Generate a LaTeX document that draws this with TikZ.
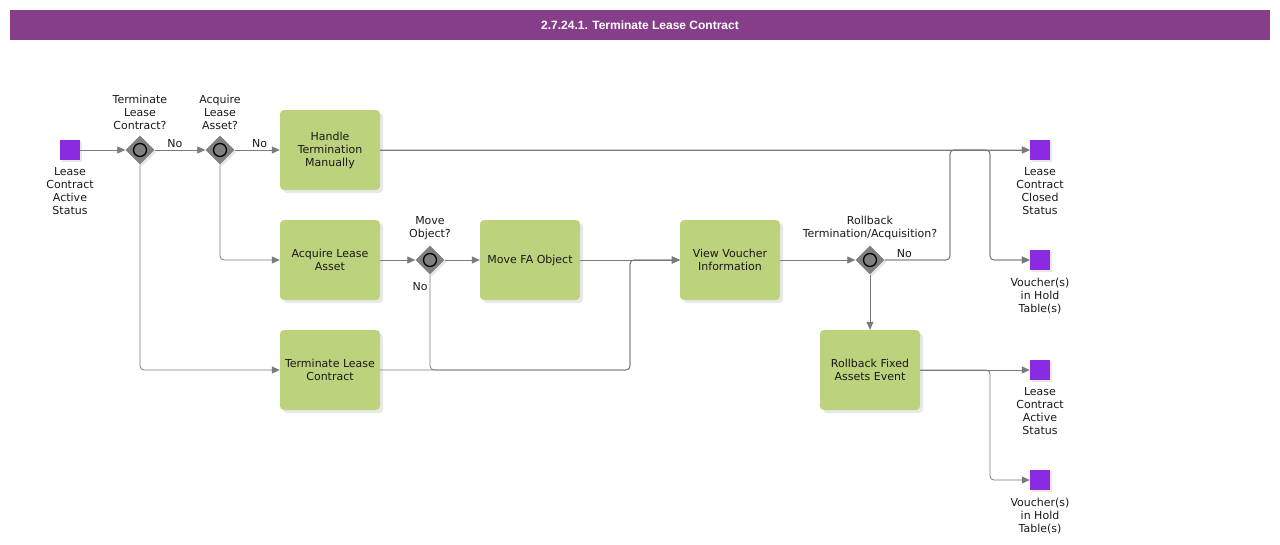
\documentclass[tikz,border=0pt]{standalone}
\usepackage{fontspec}
\setmainfont{DejaVu Sans}
\newfontfamily\titlefont{Liberation Sans}
\usepackage{tikz}
\usetikzlibrary{shapes.geometric, arrows.meta, positioning, calc, shadows}
\usepackage{xcolor}
\definecolor{barpurple}{HTML}{863E8B}
\definecolor{taskgreen}{HTML}{BDD27D}
\definecolor{eventviolet}{HTML}{8A2BE2}
\definecolor{flowgray}{HTML}{7A7A7A}
\definecolor{gategray}{HTML}{808080}

\tikzset{
    txt/.style={font=\fontsize{11}{13}\selectfont, text=black!90, align=center},
    uptxt/.style={txt, yshift=2pt},
    downtxt/.style={txt, yshift=-4pt},
    task/.style={rectangle, rounded corners=4pt, fill=taskgreen, minimum width=100pt, minimum height=80pt,
        inner sep=1pt, txt, drop shadow={shadow xshift=3pt, shadow yshift=-3pt, fill=black!18}},
    gateway/.style={diamond, fill=gategray, minimum width=29pt, minimum height=29pt, inner sep=0pt,
        drop shadow={shadow xshift=2pt, shadow yshift=-2pt, fill=black!18},
        path picture={\draw[line width=1.3pt, fill=gategray] (path picture bounding box.center) circle (6.5pt);},
        label distance=0pt},
    event/.style={rectangle, fill=eventviolet, minimum size=20pt, inner sep=0pt,
        drop shadow={shadow xshift=2pt, shadow yshift=-2pt, fill=black!18}, label distance=0pt},
    flow/.style={draw=flowgray, line width=0.8pt, rounded corners=4pt,
        -{Triangle[length=8pt, width=7pt, fill=flowgray]}},
    nolabel/.style={txt, inner sep=2pt}
}

\begin{document}
\begin{tikzpicture}[x=1pt, y=-1pt]
        \useasboundingbox (0,0) rectangle (1280,544);
        % title bar
        \fill[barpurple] (10,10) rectangle (1270,40);
        \node[text=white, font=\titlefont\bfseries\fontsize{12}{14}\selectfont] (title) at (640,25) {2.7.24.1. Terminate Lease Contract};

        % events
        \node[event, label={[downtxt]below:Lease\\Contract\\Active\\Status}] (start) at (70,150) {};
        \node[event, label={[downtxt]below:Lease\\Contract\\Closed\\Status}] (closed) at (1040,150) {};
        \node[event, label={[downtxt]below:Voucher(s)\\in Hold\\Table(s)}] (holdA) at (1040,260) {};
        \node[event, label={[downtxt]below:Lease\\Contract\\Active\\Status}] (active) at (1040,370) {};
        \node[event, label={[downtxt]below:Voucher(s)\\in Hold\\Table(s)}] (holdB) at (1040,480) {};

        % gateways
        \node[gateway, label={[uptxt]above:Terminate\\Lease\\Contract?}] (askterm) at (140,150) {};
        \node[gateway, label={[uptxt]above:Acquire\\Lease\\Asset?}] (askacq) at (220,150) {};
        \node[gateway, label={[uptxt]above:Move\\Object?}] (askmove) at (430,260) {};
        \node[gateway, label={[uptxt]above:Rollback\\Termination/Acquisition?}] (askroll) at (870,260) {};

        % tasks
        \node[task] (manual) at (330,150) {Handle\\Termination\\Manually};
        \node[task] (acquire) at (330,260) {Acquire Lease\\Asset};
        \node[task] (terminate) at (330,370) {Terminate Lease\\Contract};
        \node[task] (movefa) at (530,260) {Move FA Object};
        \node[task] (voucher) at (730,260) {View Voucher\\Information};
        \node[task] (rollback) at (870,370) {Rollback Fixed\\Assets Event};

        % joints
        \coordinate (joinview) at (630,370);
        \coordinate (joinno) at (950,150);
        \coordinate (joinhold) at (990,150);
        \coordinate (joinback) at (990,370);

        % flows
        \draw[flow] (start) -- (askterm);
        \draw[flow] (askterm) -- node[nolabel, above, pos=0.4] {No} (askacq);
        \draw[flow] (askacq) -- node[nolabel, above, pos=0.55] {No} (manual);
        \draw[flow] (askterm) |- (terminate);
        \draw[flow] (askacq) |- (acquire);
        \draw[flow] (acquire) -- (askmove);
        \draw[flow] (askmove) -- (movefa);
        \draw[flow] (askmove) |- node[nolabel, left, pos=0.06] {No} (joinview) |- (voucher);
        \draw[flow] (terminate) -- (joinview) |- (voucher);
        \draw[flow] (movefa) -- (voucher);
        \draw[flow] (voucher) -- (askroll);
        \draw[flow] (askroll) -- (rollback);
        \draw[flow] (askroll) -| node[nolabel, above, pos=0.15] {No} (joinno) -- (closed);
        \draw[flow] (askroll) -| (joinno) -- (joinhold) |- (holdA);
        \draw[flow] (manual) -- (closed);
        \draw[flow] (manual) -- (joinhold) |- (holdA);
        \draw[flow] (rollback) -- (active);
        \draw[flow] (rollback) -- (joinback) |- (holdB);
    \end{tikzpicture}
\end{document}
